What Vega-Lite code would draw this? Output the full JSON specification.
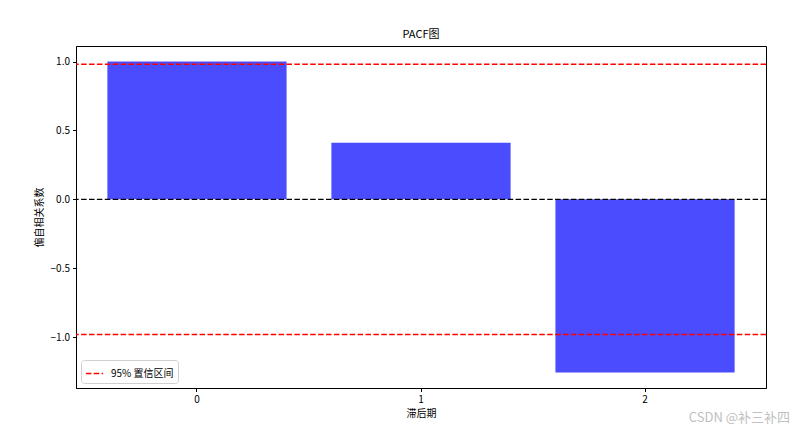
{
  "$schema": "https://vega.github.io/schema/vega-lite/v6.json",
  "width": 690,
  "height": 342,
  "autosize": {"type": "none"},
  "padding": {"left": 76, "top": 46, "right": 32, "bottom": 42},
  "config": {
    "font": "Noto Sans CJK SC",
    "view": {"stroke": "#000", "strokeWidth": 1},
    "axis": {
      "grid": false,
      "domainColor": "#000",
      "tickColor": "#000",
      "labelColor": "#000",
      "titleColor": "#000",
      "labelFontSize": 10,
      "titleFontSize": 10,
      "titleFontWeight": "normal",
      "tickSize": 3.5,
      "labelPadding": 3
    }
  },
  "title": {"text": "PACF图", "fontSize": 11, "fontWeight": "normal", "offset": 6, "color": "#000"},
  "layer": [
    {
      "data": {"values": [
        {"lag": "0", "value": 1.0},
        {"lag": "1", "value": 0.41},
        {"lag": "2", "value": -1.256}
      ]},
      "mark": {"type": "bar", "color": "blue", "opacity": 0.7},
      "encoding": {
        "x": {"field": "lag", "type": "ordinal", "scale": {"paddingInner": 0.2, "paddingOuter": 0.14},
              "axis": {"labelAngle": 0, "title": "滞后期", "titlePadding": 4}},
        "y": {"field": "value", "type": "quantitative",
              "scale": {"domain": [-1.369, 1.113], "nice": false, "zero": false},
              "axis": {"values": [-1, -0.5, 0, 0.5, 1], "format": ".1f", "title": "偏自相关系数", "titlePadding": 6}}
      }
    },
    {
      "data": {"values": [{"value": 0}]},
      "mark": {"type": "rule", "color": "black", "strokeDash": [5.5, 2.4], "strokeWidth": 1.3},
      "encoding": {"y": {"field": "value", "type": "quantitative"}}
    },
    {
      "data": {"values": [
        {"value": 0.98, "series": "95% 置信区间"},
        {"value": -0.98, "series": "95% 置信区间"}
      ]},
      "mark": {"type": "rule", "strokeDash": [5.5, 2.4], "strokeWidth": 1.5},
      "encoding": {
        "y": {"field": "value", "type": "quantitative"},
        "color": {"field": "series", "type": "nominal",
                  "scale": {"domain": ["95% 置信区间"], "range": ["red"]},
                  "legend": {"title": null, "orient": "bottom-left", "offset": 5,
                             "fillColor": "white", "strokeColor": "#d0d0d0", "cornerRadius": 3, "padding": 4,
                             "symbolType": "stroke", "symbolDash": [5.5, 2.4], "symbolStrokeWidth": 1.5,
                             "symbolSize": 300, "labelOffset": 7, "labelFontSize": 10, "labelColor": "#000"}}
      }
    },
    {
      "data": {"values": [{"text": "CSDN @补三补四"}]},
      "mark": {"type": "text", "align": "right", "baseline": "middle", "dx": 145, "fontSize": 13, "color": "#c0c0c0"},
      "encoding": {
        "x": {"datum": "2"},
        "y": {"datum": -1.585},
        "text": {"field": "text"}
      }
    }
  ]
}
